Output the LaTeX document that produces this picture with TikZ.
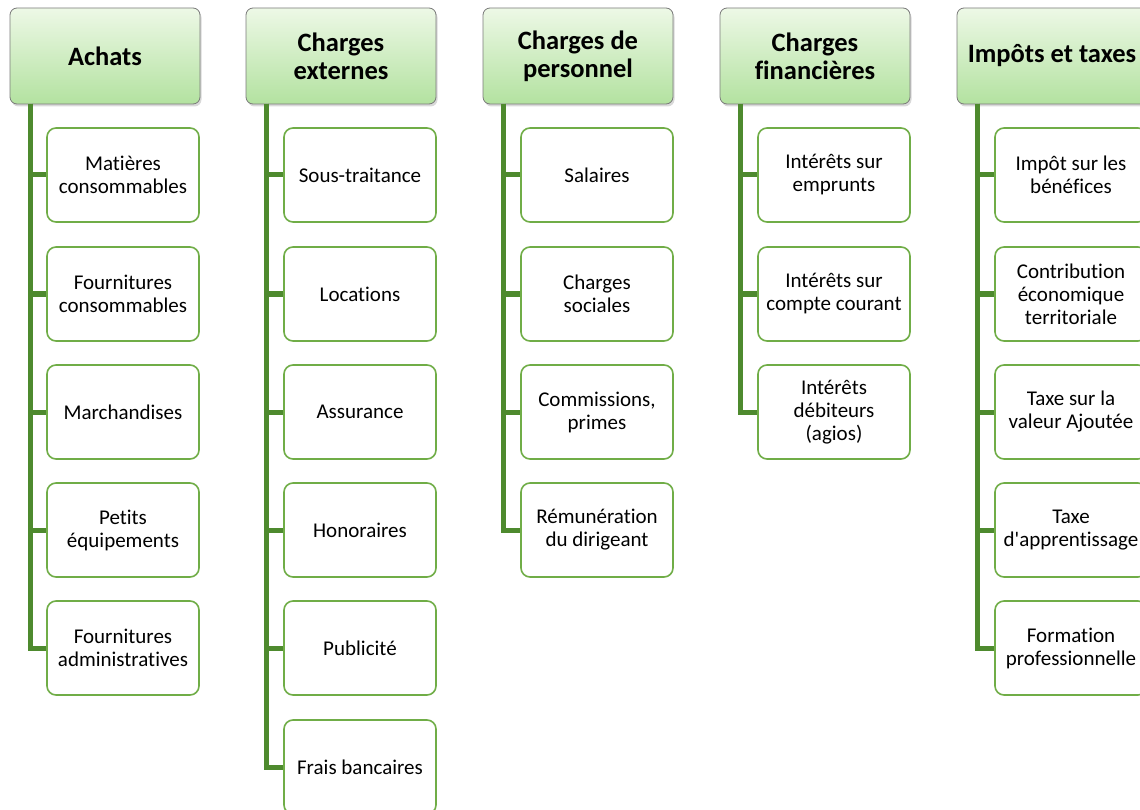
\documentclass[tikz,border=0pt]{standalone}
\usepackage{fontspec}
\setmainfont{Carlito}[Ligatures={TeX,NoCommon}]
\usepackage{tikz}
\usetikzlibrary{positioning,shadows,calc}
\definecolor{headtop}{HTML}{EDF8E6}
\definecolor{headbot}{HTML}{B3E2A0}
\definecolor{headline}{HTML}{7A7A7A}
\definecolor{itemline}{HTML}{70AD47}
\definecolor{trunkline}{HTML}{4E8A2E}
\tikzset{
	header/.style = {
			draw=headline, thick, rectangle, rounded corners=7pt,
			top color=headtop, bottom color=headbot,
			minimum width=190pt, minimum height=96pt,
			align=center, font=\fontsize{26.5}{28}\selectfont\bfseries,
			drop shadow={opacity=0.3, shadow xshift=1.5pt, shadow yshift=-2.5pt},
		},
	item/.style = {
			draw=itemline, line width=1.6pt, rectangle, rounded corners=9pt,
			fill=white, minimum width=152pt, minimum height=94pt,
			align=center, font=\fontsize{21}{23}\selectfont,
		},
	branch/.style = {draw=trunkline, line width=5pt},
}

\begin{document}
\begin{tikzpicture}[x=1pt, y=-1pt]
	\useasboundingbox (0,0) rectangle (1140,810);

	% titres des colonnes
	\node[header] at (105,56) (achats) {Achats};
	\node[header] at (341,56) (externes) {Charges\\externes};
	\node[header] at (578,56) (personnel) {Charges de\\personnel};
	\node[header] at (815,56) (financieres) {Charges\\financières};
	\node[header] at (1052,56) (impots) {Impôts et taxes};

	\coordinate (achatsT) at (30,104);
	\coordinate (externesT) at (266,104);
	\coordinate (personnelT) at (503,104);
	\coordinate (financieresT) at (740,104);
	\coordinate (impotsT) at (977,104);

	% Achats
	\node[item] at (123,175) (achats1) {Matières\\consommables};
	\node[item] at (123,294) (achats2) {Fournitures\\consommables};
	\node[item] at (123,412) (achats3) {Marchandises};
	\node[item] at (123,530) (achats4) {Petits\\équipements};
	\node[item] at (123,648) (achats5) {Fournitures\\administratives};

	% Charges externes
	\node[item] at (360,175) (externes1) {Sous-traitance};
	\node[item] at (360,294) (externes2) {Locations};
	\node[item] at (360,412) (externes3) {Assurance};
	\node[item] at (360,530) (externes4) {Honoraires};
	\node[item] at (360,648) (externes5) {Publicité};
	\node[item] at (360,767) (externes6) {Frais bancaires};

	% Charges de personnel
	\node[item] at (597,175) (personnel1) {Salaires};
	\node[item] at (597,294) (personnel2) {Charges\\sociales};
	\node[item] at (597,412) (personnel3) {Commissions,\\primes};
	\node[item] at (597,530) (personnel4) {Rémunération\\du dirigeant};

	% Charges financieres
	\node[item] at (834,175) (financieres1) {Intérêts sur\\emprunts};
	\node[item] at (834,294) (financieres2) {Intérêts sur\\compte courant};
	\node[item] at (834,412) (financieres3) {Intérêts\\débiteurs\\(agios)};

	% Impots et taxes
	\node[item] at (1071,175) (impots1) {Impôt sur les\\bénéfices};
	\node[item] at (1071,294) (impots2) {Contribution\\économique\\territoriale};
	\node[item] at (1071,412) (impots3) {Taxe sur la\\valeur Ajoutée};
	\node[item] at (1071,530) (impots4) {Taxe\\d\textquotesingle apprentissage};
	\node[item] at (1071,648) (impots5) {Formation\\professionnelle};

	% liaisons
	\draw[branch] (achatsT) |- (achats1.west);
	\draw[branch] (achatsT) |- (achats2.west);
	\draw[branch] (achatsT) |- (achats3.west);
	\draw[branch] (achatsT) |- (achats4.west);
	\draw[branch] (achatsT) |- (achats5.west);

	\draw[branch] (externesT) |- (externes1.west);
	\draw[branch] (externesT) |- (externes2.west);
	\draw[branch] (externesT) |- (externes3.west);
	\draw[branch] (externesT) |- (externes4.west);
	\draw[branch] (externesT) |- (externes5.west);
	\draw[branch] (externesT) |- (externes6.west);

	\draw[branch] (personnelT) |- (personnel1.west);
	\draw[branch] (personnelT) |- (personnel2.west);
	\draw[branch] (personnelT) |- (personnel3.west);
	\draw[branch] (personnelT) |- (personnel4.west);

	\draw[branch] (financieresT) |- (financieres1.west);
	\draw[branch] (financieresT) |- (financieres2.west);
	\draw[branch] (financieresT) |- (financieres3.west);

	\draw[branch] (impotsT) |- (impots1.west);
	\draw[branch] (impotsT) |- (impots2.west);
	\draw[branch] (impotsT) |- (impots3.west);
	\draw[branch] (impotsT) |- (impots4.west);
	\draw[branch] (impotsT) |- (impots5.west);
\end{tikzpicture}
\end{document}
